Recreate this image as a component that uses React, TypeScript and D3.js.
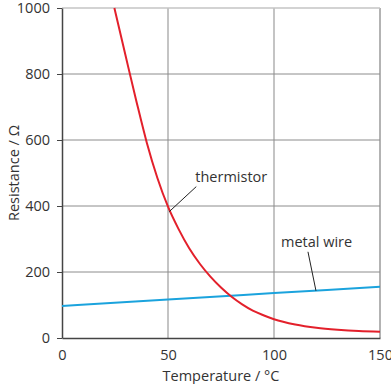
// Resistance vs temperature: thermistor and metal wire
import React, { useEffect, useRef } from 'react';
import * as d3 from 'd3';

// temperature (°C) and resistance (Ω)
const thermistorTemps = [24.7, 30, 35, 40, 45, 50, 55, 60, 65, 70, 75, 80, 85, 90, 95, 100, 110, 120, 130, 140, 150];
const thermistorRes = [1000, 855, 720, 592, 485, 398, 330, 272, 225, 186, 153, 125, 102, 83, 69, 57, 41, 31, 25, 21, 19];

const wireTemps = [0, 50, 100, 150];
const wireRes = [97, 117, 136, 155];

const xTicks = [0, 50, 100, 150];
const yTicks = [0, 200, 400, 600, 800, 1000];

// label text with the data point its leader line points to
const labels = [
  { text: 'thermistor', t: 50.6, r: 383 },
  { text: 'metal wire', t: 119.8, r: 143 },
];

const App: React.FC = () => {
  const svgRef = useRef<SVGSVGElement>(null);

  useEffect(() => {
    const svg = d3.select(svgRef.current);
    svg.selectAll('*').remove();

    const width = 391;
    const height = 384;
    const margin = { top: 8, right: 11, bottom: 46, left: 62 };
    const font = '"Open Sans", "Noto Sans", sans-serif';

    const x = d3.scaleLinear().domain([0, 150]).range([margin.left, width - margin.right]);
    const y = d3.scaleLinear().domain([0, 1000]).range([height - margin.bottom, margin.top]);

    // vertical grid (lighter, a bit thicker)
    svg
      .append('g')
      .selectAll('line')
      .data(xTicks.filter((d) => d > 0))
      .join('line')
      .attr('x1', (d) => x(d))
      .attr('x2', (d) => x(d))
      .attr('y1', y(0))
      .attr('y2', y(1000))
      .attr('stroke', (d) => (d === 150 ? '#9a9a9a' : '#c4c4c4'))
      .attr('stroke-width', (d) => (d === 150 ? 1.5 : 2));

    // horizontal grid
    svg
      .append('g')
      .selectAll('line')
      .data(yTicks.filter((d) => d > 0))
      .join('line')
      .attr('x1', x(0))
      .attr('x2', x(150))
      .attr('y1', (d) => y(d))
      .attr('y2', (d) => y(d))
      .attr('stroke', (d) => (d === 1000 ? '#c4c4c4' : '#8c8c8c'))
      .attr('stroke-width', (d) => (d === 1000 ? 1.5 : 1));

    // axes
    const yAxis = d3
      .axisLeft(y)
      .tickValues(yTicks)
      .tickFormat(d3.format('d'))
      .tickSize(5)
      .tickPadding(7)
      .tickSizeOuter(0);
    const gy = svg.append('g').attr('transform', `translate(${margin.left},0)`).call(yAxis);
    gy.select('.domain').attr('stroke', '#444').attr('stroke-width', 1.5);
    gy.selectAll('.tick line').attr('stroke', '#444');
    gy.selectAll('.tick text')
      .attr('fill', '#333')
      .style('font-family', font)
      .style('font-size', '14.5px');

    const xAxis = d3
      .axisBottom(x)
      .tickValues(xTicks)
      .tickSize(0)
      .tickPadding(12)
      .tickSizeOuter(0);
    const gx = svg.append('g').attr('transform', `translate(0,${y(0)})`).call(xAxis);
    gx.select('.domain').attr('stroke', '#444').attr('stroke-width', 1.5);
    gx.selectAll('.tick text')
      .attr('fill', '#333')
      .style('font-family', font)
      .style('font-size', '14.5px');

    // axis titles
    svg
      .append('text')
      .attr('x', (x(0) + x(150)) / 2)
      .attr('y', 381)
      .attr('text-anchor', 'middle')
      .attr('fill', '#333')
      .style('font-family', font)
      .style('font-size', '14.5px')
      .text('Temperature / °C');

    svg
      .append('text')
      .attr('transform', `translate(19,${(y(0) + y(1000)) / 2}) rotate(-90)`)
      .attr('text-anchor', 'middle')
      .attr('fill', '#333')
      .style('font-family', font)
      .style('font-size', '14.5px')
      .text('Resistance / Ω');

    // curves
    const line = d3
      .line<[number, number]>()
      .x((d) => x(d[0]))
      .y((d) => y(d[1]))
      .curve(d3.curveMonotoneX);

    svg
      .append('path')
      .datum(wireTemps.map((t, i) => [t, wireRes[i]] as [number, number]))
      .attr('fill', 'none')
      .attr('stroke', '#1ba3dd')
      .attr('stroke-width', 2)
      .attr('d', line);

    svg
      .append('path')
      .datum(thermistorTemps.map((t, i) => [t, thermistorRes[i]] as [number, number]))
      .attr('fill', 'none')
      .attr('stroke', '#e3202b')
      .attr('stroke-width', 2)
      .attr('d', line);

    // labels with leader lines
    const [thermLabel, wireLabel] = labels;
    svg
      .append('line')
      .attr('x1', x(thermLabel.t))
      .attr('y1', y(thermLabel.r))
      .attr('x2', x(thermLabel.t) + 27)
      .attr('y2', y(thermLabel.r) - 25)
      .attr('stroke', '#222')
      .attr('stroke-width', 1);
    svg
      .append('text')
      .attr('x', x(thermLabel.t) + 26)
      .attr('y', y(thermLabel.r) - 30)
      .attr('fill', '#333')
      .style('font-family', font)
      .style('font-size', '14.5px')
      .text(thermLabel.text);

    svg
      .append('line')
      .attr('x1', x(wireLabel.t))
      .attr('y1', y(wireLabel.r))
      .attr('x2', x(wireLabel.t) - 8)
      .attr('y2', y(wireLabel.r) - 39)
      .attr('stroke', '#222')
      .attr('stroke-width', 1);
    svg
      .append('text')
      .attr('x', x(wireLabel.t) - 35)
      .attr('y', y(wireLabel.r) - 44)
      .attr('fill', '#333')
      .style('font-family', font)
      .style('font-size', '14.5px')
      .text(wireLabel.text);
  }, []);

  return (
    <svg
      ref={svgRef}
      width={391}
      height={384}
      style={{ position: 'absolute', left: 0, top: 0, background: '#fff' }}
    />
  );
};

export default App;
